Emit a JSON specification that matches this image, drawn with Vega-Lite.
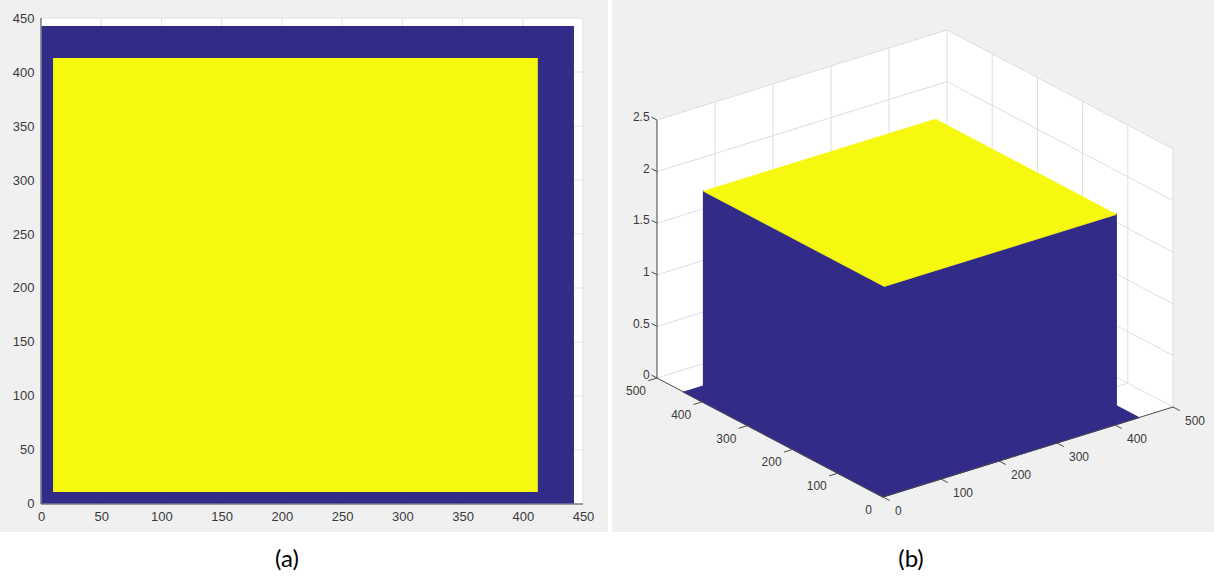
{
  "$schema": "https://vega.github.io/schema/vega-lite/v6.json",
  "background": "white",
  "padding": 0,
  "spacing": 4,
  "config": {"view": {"stroke": null}},
  "datasets": {
    "frameA": [{"x0": 0, "x1": 450, "y0": 0, "y1": 450}],
    "gridA": [{"g": 50}, {"g": 100}, {"g": 150}, {"g": 200}, {"g": 250}, {"g": 300}, {"g": 350}, {"g": 400}, {"g": 450}],
    "axesA": [{"x0": 0, "y0": 0, "x1": 0, "y1": 450}, {"x0": 0, "y0": 0, "x1": 450, "y1": 0}],
    "imageA": [
      {"v": "low", "x0": 0.5, "x1": 442.5, "y0": 0.5, "y1": 442.5},
      {"v": "high", "x0": 10, "x1": 412.5, "y0": 11, "y1": 413}
    ],
    "planes": [
      {"p": "floor", "k": 0, "x": 0, "y": 0, "z": 0}, {"p": "floor", "k": 1, "x": 500, "y": 0, "z": 0}, {"p": "floor", "k": 2, "x": 500, "y": 500, "z": 0}, {"p": "floor", "k": 3, "x": 0, "y": 500, "z": 0},
      {"p": "wy", "k": 0, "x": 0, "y": 500, "z": 0}, {"p": "wy", "k": 1, "x": 500, "y": 500, "z": 0}, {"p": "wy", "k": 2, "x": 500, "y": 500, "z": 2.5}, {"p": "wy", "k": 3, "x": 0, "y": 500, "z": 2.5},
      {"p": "wx", "k": 0, "x": 500, "y": 0, "z": 0}, {"p": "wx", "k": 1, "x": 500, "y": 500, "z": 0}, {"p": "wx", "k": 2, "x": 500, "y": 500, "z": 2.5}, {"p": "wx", "k": 3, "x": 500, "y": 0, "z": 2.5}
    ],
    "surface": [
      {"p": "base", "c": "low", "k": 0, "x": 0, "y": 0, "z": 0}, {"p": "base", "c": "low", "k": 1, "x": 441, "y": 0, "z": 0}, {"p": "base", "c": "low", "k": 2, "x": 441, "y": 441, "z": 0}, {"p": "base", "c": "low", "k": 3, "x": 0, "y": 441, "z": 0},
      {"p": "sideA", "c": "low", "k": 0, "x": 10, "y": 10, "z": 0}, {"p": "sideA", "c": "low", "k": 1, "x": 10, "y": 410, "z": 0}, {"p": "sideA", "c": "low", "k": 2, "x": 10, "y": 410, "z": 2}, {"p": "sideA", "c": "low", "k": 3, "x": 10, "y": 10, "z": 2},
      {"p": "sideB", "c": "low", "k": 0, "x": 10, "y": 10, "z": 0}, {"p": "sideB", "c": "low", "k": 1, "x": 410, "y": 10, "z": 0}, {"p": "sideB", "c": "low", "k": 2, "x": 410, "y": 10, "z": 2}, {"p": "sideB", "c": "low", "k": 3, "x": 10, "y": 10, "z": 2},
      {"p": "top", "c": "high", "k": 0, "x": 10, "y": 10, "z": 2}, {"p": "top", "c": "high", "k": 1, "x": 410, "y": 10, "z": 2}, {"p": "top", "c": "high", "k": 2, "x": 410, "y": 410, "z": 2}, {"p": "top", "c": "high", "k": 3, "x": 10, "y": 410, "z": 2}
    ],
    "grid3d": [
      {"x": 0, "y": 500, "z": 0, "xe": 0, "ye": 500, "ze": 2.5},
      {"x": 100, "y": 500, "z": 0, "xe": 100, "ye": 500, "ze": 2.5},
      {"x": 200, "y": 500, "z": 0, "xe": 200, "ye": 500, "ze": 2.5},
      {"x": 300, "y": 500, "z": 0, "xe": 300, "ye": 500, "ze": 2.5},
      {"x": 400, "y": 500, "z": 0, "xe": 400, "ye": 500, "ze": 2.5},
      {"x": 500, "y": 500, "z": 0, "xe": 500, "ye": 500, "ze": 2.5},
      {"x": 0, "y": 500, "z": 0, "xe": 500, "ye": 500, "ze": 0},
      {"x": 0, "y": 500, "z": 0.5, "xe": 500, "ye": 500, "ze": 0.5},
      {"x": 0, "y": 500, "z": 1, "xe": 500, "ye": 500, "ze": 1},
      {"x": 0, "y": 500, "z": 1.5, "xe": 500, "ye": 500, "ze": 1.5},
      {"x": 0, "y": 500, "z": 2, "xe": 500, "ye": 500, "ze": 2},
      {"x": 0, "y": 500, "z": 2.5, "xe": 500, "ye": 500, "ze": 2.5},
      {"x": 500, "y": 0, "z": 0, "xe": 500, "ye": 0, "ze": 2.5},
      {"x": 500, "y": 100, "z": 0, "xe": 500, "ye": 100, "ze": 2.5},
      {"x": 500, "y": 200, "z": 0, "xe": 500, "ye": 200, "ze": 2.5},
      {"x": 500, "y": 300, "z": 0, "xe": 500, "ye": 300, "ze": 2.5},
      {"x": 500, "y": 400, "z": 0, "xe": 500, "ye": 400, "ze": 2.5},
      {"x": 500, "y": 0, "z": 0.5, "xe": 500, "ye": 500, "ze": 0.5},
      {"x": 500, "y": 0, "z": 1, "xe": 500, "ye": 500, "ze": 1},
      {"x": 500, "y": 0, "z": 1.5, "xe": 500, "ye": 500, "ze": 1.5},
      {"x": 500, "y": 0, "z": 2, "xe": 500, "ye": 500, "ze": 2},
      {"x": 500, "y": 0, "z": 2.5, "xe": 500, "ye": 500, "ze": 2.5},
      {"x": 500, "y": 0, "z": 0, "xe": 500, "ye": 500, "ze": 0},
      {"x": 100, "y": 0, "z": 0, "xe": 100, "ye": 500, "ze": 0},
      {"x": 200, "y": 0, "z": 0, "xe": 200, "ye": 500, "ze": 0},
      {"x": 300, "y": 0, "z": 0, "xe": 300, "ye": 500, "ze": 0},
      {"x": 400, "y": 0, "z": 0, "xe": 400, "ye": 500, "ze": 0},
      {"x": 0, "y": 100, "z": 0, "xe": 500, "ye": 100, "ze": 0},
      {"x": 0, "y": 200, "z": 0, "xe": 500, "ye": 200, "ze": 0},
      {"x": 0, "y": 300, "z": 0, "xe": 500, "ye": 300, "ze": 0},
      {"x": 0, "y": 400, "z": 0, "xe": 500, "ye": 400, "ze": 0}
    ],
    "axes3d": [
      {"x": 0, "y": 500, "z": 0, "xe": 0, "ye": 500, "ze": 2.5},
      {"x": 0, "y": 0, "z": 0, "xe": 0, "ye": 500, "ze": 0},
      {"x": 0, "y": 0, "z": 0, "xe": 500, "ye": 0, "ze": 0},
      {"x": 0, "y": 500, "z": 0, "xe": 0, "ye": 512, "ze": 0},
      {"x": 0, "y": 500, "z": 0.5, "xe": 0, "ye": 512, "ze": 0.5},
      {"x": 0, "y": 500, "z": 1, "xe": 0, "ye": 512, "ze": 1},
      {"x": 0, "y": 500, "z": 1.5, "xe": 0, "ye": 512, "ze": 1.5},
      {"x": 0, "y": 500, "z": 2, "xe": 0, "ye": 512, "ze": 2},
      {"x": 0, "y": 500, "z": 2.5, "xe": 0, "ye": 512, "ze": 2.5},
      {"x": 0, "y": 0, "z": 0, "xe": 0, "ye": -15, "ze": 0},
      {"x": 100, "y": 0, "z": 0, "xe": 100, "ye": -15, "ze": 0},
      {"x": 200, "y": 0, "z": 0, "xe": 200, "ye": -15, "ze": 0},
      {"x": 300, "y": 0, "z": 0, "xe": 300, "ye": -15, "ze": 0},
      {"x": 400, "y": 0, "z": 0, "xe": 400, "ye": -15, "ze": 0},
      {"x": 500, "y": 0, "z": 0, "xe": 500, "ye": -15, "ze": 0},
      {"x": 0, "y": 100, "z": 0, "xe": -15, "ye": 100, "ze": 0},
      {"x": 0, "y": 200, "z": 0, "xe": -15, "ye": 200, "ze": 0},
      {"x": 0, "y": 300, "z": 0, "xe": -15, "ye": 300, "ze": 0},
      {"x": 0, "y": 400, "z": 0, "xe": -15, "ye": 400, "ze": 0},
      {"x": 0, "y": 500, "z": 0, "xe": -15, "ye": 500, "ze": 0}
    ],
    "labels3d": [
      {"a": "z", "x": 0, "y": 512, "z": 0, "t": "0"},
      {"a": "z", "x": 0, "y": 512, "z": 0.5, "t": "0.5"},
      {"a": "z", "x": 0, "y": 512, "z": 1, "t": "1"},
      {"a": "z", "x": 0, "y": 512, "z": 1.5, "t": "1.5"},
      {"a": "z", "x": 0, "y": 512, "z": 2, "t": "2"},
      {"a": "z", "x": 0, "y": 512, "z": 2.5, "t": "2.5"},
      {"a": "x", "x": 0, "y": 0, "z": 0, "t": "0"},
      {"a": "x", "x": 100, "y": 0, "z": 0, "t": "100"},
      {"a": "x", "x": 200, "y": 0, "z": 0, "t": "200"},
      {"a": "x", "x": 300, "y": 0, "z": 0, "t": "300"},
      {"a": "x", "x": 400, "y": 0, "z": 0, "t": "400"},
      {"a": "x", "x": 500, "y": 0, "z": 0, "t": "500"},
      {"a": "y", "x": 0, "y": 0, "z": 0, "t": "0"},
      {"a": "y", "x": 0, "y": 100, "z": 0, "t": "100"},
      {"a": "y", "x": 0, "y": 200, "z": 0, "t": "200"},
      {"a": "y", "x": 0, "y": 300, "z": 0, "t": "300"},
      {"a": "y", "x": 0, "y": 400, "z": 0, "t": "400"},
      {"a": "y", "x": 0, "y": 500, "z": 0, "t": "500"}
    ]
  },
  "hconcat": [
    {
      "width": 608,
      "height": 532,
      "view": {"fill": "#f0f0f0", "stroke": null},
      "title": {"text": "(a)", "orient": "bottom", "anchor": "middle", "font": "Lato", "fontSize": 24, "fontWeight": "normal", "color": "#000000", "offset": 16, "dx": -17},
      "layer": [
        {
          "data": {"name": "frameA"},
          "mark": {"type": "rect", "color": "white"},
          "encoding": {
            "x": {"field": "x0", "type": "quantitative", "scale": {"domain": [-34.04, 470.76], "nice": false, "zero": false},
                  "axis": {"values": [0, 50, 100, 150, 200, 250, 300, 350, 400, 450], "offset": -28, "domain": false, "ticks": false, "grid": false, "labelPadding": 6, "labelFont": "Liberation Sans", "labelFontSize": 13, "labelColor": "#3a3a3a", "labelFlush": false, "labelOverlap": false, "title": null}},
            "x2": {"field": "x1"},
            "y": {"field": "y0", "type": "quantitative", "scale": {"domain": [-25.93, 466.67], "nice": false, "zero": false},
                  "axis": {"values": [0, 50, 100, 150, 200, 250, 300, 350, 400, 450], "offset": -41, "domain": false, "ticks": false, "grid": false, "labelPadding": 7, "labelFont": "Liberation Sans", "labelFontSize": 13, "labelColor": "#3a3a3a", "labelFlush": false, "labelOverlap": false, "title": null}},
            "y2": {"field": "y1"}
          }
        },
        {
          "data": {"name": "gridA"},
          "mark": {"type": "rule", "color": "#e2e2e2", "strokeWidth": 1},
          "encoding": {
            "x": {"field": "g", "type": "quantitative", "scale": {"domain": [-34.04, 470.76], "nice": false, "zero": false}},
            "y": {"datum": 0, "type": "quantitative", "scale": {"domain": [-25.93, 466.67], "nice": false, "zero": false}},
            "y2": {"datum": 450}
          }
        },
        {
          "data": {"name": "gridA"},
          "mark": {"type": "rule", "color": "#e2e2e2", "strokeWidth": 1},
          "encoding": {
            "y": {"field": "g", "type": "quantitative", "scale": {"domain": [-25.93, 466.67], "nice": false, "zero": false}},
            "x": {"datum": 0, "type": "quantitative", "scale": {"domain": [-34.04, 470.76], "nice": false, "zero": false}},
            "x2": {"datum": 450}
          }
        },
        {
          "data": {"name": "axesA"},
          "mark": {"type": "rule", "color": "#3a3a3a", "strokeWidth": 1},
          "encoding": {
            "x": {"field": "x0", "type": "quantitative", "scale": {"domain": [-34.04, 470.76], "nice": false, "zero": false}},
            "x2": {"field": "x1"},
            "y": {"field": "y0", "type": "quantitative", "scale": {"domain": [-25.93, 466.67], "nice": false, "zero": false}},
            "y2": {"field": "y1"}
          }
        },
        {
          "data": {"name": "imageA"},
          "mark": {"type": "rect"},
          "encoding": {
            "x": {"field": "x0", "type": "quantitative", "scale": {"domain": [-34.04, 470.76], "nice": false, "zero": false}},
            "x2": {"field": "x1"},
            "y": {"field": "y0", "type": "quantitative", "scale": {"domain": [-25.93, 466.67], "nice": false, "zero": false}},
            "y2": {"field": "y1"},
            "color": {"field": "v", "type": "nominal", "scale": {"domain": ["low", "high"], "range": ["#322b88", "#f7f80f"]}, "legend": null}
          }
        }
      ]
    },
    {
      "width": 602,
      "height": 532,
      "view": {"fill": "#f0f0f0", "stroke": null},
      "title": {"text": "(b)", "orient": "bottom", "anchor": "middle", "font": "Lato", "fontSize": 24, "fontWeight": "normal", "color": "#000000", "offset": 16, "dx": -2},
      "encoding": {
        "x": {"field": "sx", "type": "quantitative", "scale": {"domain": [-271, 331], "nice": false, "zero": false}, "axis": null},
        "y": {"field": "sy", "type": "quantitative", "scale": {"domain": [-35, 497], "nice": false, "zero": false}, "axis": null}
      },
      "layer": [
        {
          "data": {"name": "planes"},
          "transform": [
            {"calculate": "0.58*datum.x - 0.452*datum.y", "as": "sx"},
            {"calculate": "0.18*datum.x + 0.238*datum.y + 103.2*datum.z", "as": "sy"}
          ],
          "mark": {"type": "line", "filled": true, "interpolate": "linear-closed", "color": "white"},
          "encoding": {"detail": {"field": "p"}, "order": {"field": "k", "type": "quantitative"}}
        },
        {
          "data": {"name": "grid3d"},
          "transform": [
            {"calculate": "0.58*datum.x - 0.452*datum.y", "as": "sx"},
            {"calculate": "0.18*datum.x + 0.238*datum.y + 103.2*datum.z", "as": "sy"},
            {"calculate": "0.58*datum.xe - 0.452*datum.ye", "as": "sx2"},
            {"calculate": "0.18*datum.xe + 0.238*datum.ye + 103.2*datum.ze", "as": "sy2"}
          ],
          "mark": {"type": "rule", "color": "#dedede", "strokeWidth": 1},
          "encoding": {"x2": {"field": "sx2"}, "y2": {"field": "sy2"}}
        },
        {
          "data": {"name": "surface"},
          "transform": [
            {"filter": "datum.c === 'low'"},
            {"calculate": "0.58*datum.x - 0.452*datum.y", "as": "sx"},
            {"calculate": "0.18*datum.x + 0.238*datum.y + 103.2*datum.z", "as": "sy"}
          ],
          "mark": {"type": "line", "filled": true, "interpolate": "linear-closed", "color": "#322b88", "stroke": "#322b88", "strokeWidth": 1.2},
          "encoding": {"detail": {"field": "p"}, "order": {"field": "k", "type": "quantitative"}}
        },
        {
          "data": {"name": "surface"},
          "transform": [
            {"filter": "datum.c === 'high'"},
            {"calculate": "0.58*datum.x - 0.452*datum.y", "as": "sx"},
            {"calculate": "0.18*datum.x + 0.238*datum.y + 103.2*datum.z", "as": "sy"}
          ],
          "mark": {"type": "line", "filled": true, "interpolate": "linear-closed", "color": "#f7f80f", "stroke": "#f7f80f", "strokeWidth": 0.8},
          "encoding": {"detail": {"field": "p"}, "order": {"field": "k", "type": "quantitative"}}
        },
        {
          "data": {"name": "axes3d"},
          "transform": [
            {"calculate": "0.58*datum.x - 0.452*datum.y", "as": "sx"},
            {"calculate": "0.18*datum.x + 0.238*datum.y + 103.2*datum.z", "as": "sy"},
            {"calculate": "0.58*datum.xe - 0.452*datum.ye", "as": "sx2"},
            {"calculate": "0.18*datum.xe + 0.238*datum.ye + 103.2*datum.ze", "as": "sy2"}
          ],
          "mark": {"type": "rule", "color": "#4a4a4a", "strokeWidth": 1},
          "encoding": {"x2": {"field": "sx2"}, "y2": {"field": "sy2"}}
        },
        {
          "data": {"name": "labels3d"},
          "transform": [
            {"filter": "datum.a === 'z'"},
            {"calculate": "0.58*datum.x - 0.452*datum.y", "as": "sx"},
            {"calculate": "0.18*datum.x + 0.238*datum.y + 103.2*datum.z", "as": "sy"}
          ],
          "mark": {"type": "text", "align": "right", "baseline": "middle", "dx": -2, "font": "Liberation Sans", "fontSize": 12, "color": "#3a3a3a"},
          "encoding": {"text": {"field": "t"}}
        },
        {
          "data": {"name": "labels3d"},
          "transform": [
            {"filter": "datum.a === 'x'"},
            {"calculate": "0.58*datum.x - 0.452*datum.y", "as": "sx"},
            {"calculate": "0.18*datum.x + 0.238*datum.y + 103.2*datum.z", "as": "sy"}
          ],
          "mark": {"type": "text", "align": "left", "baseline": "middle", "dx": 12, "dy": 14, "font": "Liberation Sans", "fontSize": 12, "color": "#3a3a3a"},
          "encoding": {"text": {"field": "t"}}
        },
        {
          "data": {"name": "labels3d"},
          "transform": [
            {"filter": "datum.a === 'y'"},
            {"calculate": "0.58*datum.x - 0.452*datum.y", "as": "sx"},
            {"calculate": "0.18*datum.x + 0.238*datum.y + 103.2*datum.z", "as": "sy"}
          ],
          "mark": {"type": "text", "align": "right", "baseline": "middle", "dx": -11, "dy": 13, "font": "Liberation Sans", "fontSize": 12, "color": "#3a3a3a"},
          "encoding": {"text": {"field": "t"}}
        }
      ]
    }
  ]
}
